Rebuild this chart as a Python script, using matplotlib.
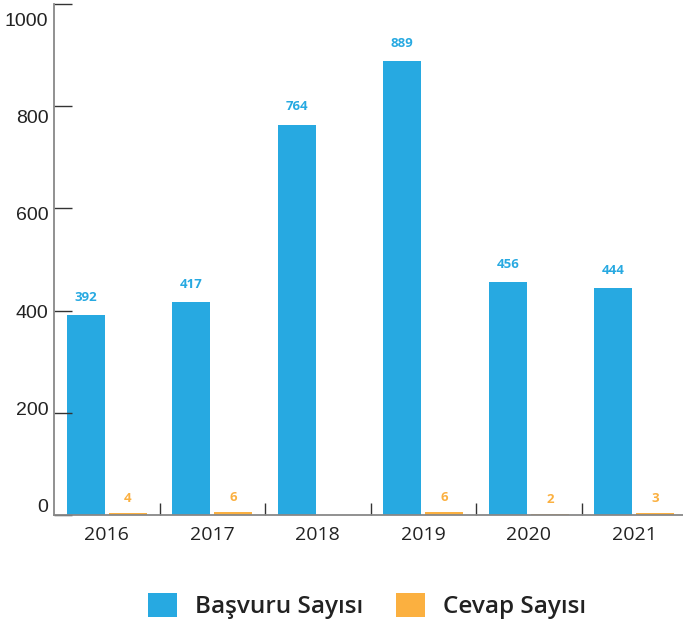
import numpy as np
import matplotlib
matplotlib.use('Agg')
import matplotlib.pyplot as plt
import matplotlib.transforms as mtransforms
from matplotlib.patches import Patch

# data
years = ['2016', '2017', '2018', '2019', '2020', '2021']
basvuru = [392, 417, 764, 889, 456, 444]
cevap = [4, 6, 0, 6, 2, 3]
series_names = ['Başvuru Sayısı', 'Cevap Sayısı']
yticks = [0, 200, 400, 600, 800, 1000]

blue = '#27A9E1'
orange = '#FBB040'

fig = plt.figure(figsize=(6.83, 6.27), dpi=100)
ax = fig.add_axes([54 / 683, 1 - 515 / 627, 633 / 683, 511 / 627])

x = np.arange(len(years))
w = 0.36
ax.bar(x - 0.2, basvuru, width=w, color=blue)
ax.bar(x + 0.2, cevap, width=w, color=orange)

# value labels
for xi, v in zip(x, basvuru):
    ax.annotate(str(v), (xi - 0.2, v), xytext=(0, 8), textcoords='offset points',
                ha='center', va='bottom', color=blue, fontsize=9.5,
                fontweight='bold', family='Open Sans')
for xi, v in zip(x, cevap):
    if v > 0:
        ax.annotate(str(v), (xi + 0.2, v), xytext=(0, 6), textcoords='offset points',
                    ha='center', va='bottom', color=orange, fontsize=9.5,
                    fontweight='bold', family='Open Sans')

ax.set_xlim(-0.5, 5.5)
ax.set_ylim(0, 1000)

for s in ['top', 'right']:
    ax.spines[s].set_visible(False)
ax.spines['left'].set_color('#888888')
ax.spines['bottom'].set_color('#888888')
ax.spines['left'].set_linewidth(1.3)
ax.spines['bottom'].set_linewidth(1.3)

ax.set_yticks(yticks)
ax.tick_params(axis='y', direction='in', length=13, width=1, color='#333333',
               labelsize=14, pad=4, labelcolor='#222222')
# the y labels sit slightly off their ticks in the original (drift with value)
for lab, v in zip(ax.get_yticklabels(), yticks):
    lab.set_family('Liberation Sans')
    dy = (9 - v * 0.024) * 0.72
    lab.set_transform(lab.get_transform() +
                      mtransforms.ScaledTranslation(0, dy / 72, fig.dpi_scale_trans))

ax.set_xticks(x)
ax.set_xticklabels(years, family='Open Sans', fontsize=14, color='#222222')
ax.tick_params(axis='x', length=0, pad=8)
ax.set_xticks(np.arange(0.5, 5.5, 1), minor=True)
ax.tick_params(axis='x', which='minor', direction='in', length=8.6, width=1,
               color='#333333')

handles = [Patch(facecolor=blue), Patch(facecolor=orange)]
fig.legend(handles, series_names, loc='center', bbox_to_anchor=(0.537, 1 - 606 / 627),
           ncol=2, frameon=False, prop={'family': 'Open Sans', 'size': 17.5, 'weight': 'semibold'},
           handlelength=1.19, handleheight=1.19, handletextpad=0.74, columnspacing=1.36,
           labelcolor='#222222')

fig.savefig('out.png', dpi=100)
